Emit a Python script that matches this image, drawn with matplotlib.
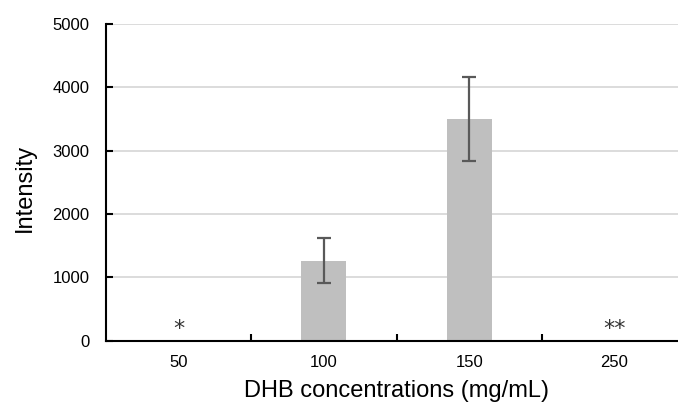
import matplotlib
matplotlib.use("Agg")
import matplotlib.pyplot as plt
import numpy as np

plt.rcParams["font.family"] = ["Liberation Sans", "DejaVu Sans"]

concentrations = ["50", "100", "150", "250"]
intensity = [0, 1265, 3500, 0]
intensity_err = [0, 360, 665, 0]
marks = ["*", "", "", "**"]

fig = plt.figure(figsize=(6.78, 4.05), dpi=100)
# plot area runs slightly past the right edge of the image
ax = fig.add_axes([106 / 678, 64.3 / 405, 581 / 678, 316.7 / 405])

x = np.arange(len(concentrations))
ax.bar(x, intensity, width=0.31, color="#bfbfbf", zorder=2)
for xi, v, e in zip(x, intensity, intensity_err):
    if e > 0:
        ax.errorbar(xi, v, yerr=e, fmt="none", ecolor="#595959",
                    elinewidth=1.6, capsize=5, capthick=1.6, zorder=3)

for xi, m in zip(x, marks):
    if m:
        ax.text(xi, 20, m, ha="center", va="bottom", fontsize=16,
                color="#333333", family="DejaVu Sans")

ax.set_xlim(-0.5, len(concentrations) - 0.5)
ax.set_ylim(0, 5000)
ax.set_yticks(np.arange(0, 5001, 1000))
ax.set_xticks(x)
ax.set_xticklabels(concentrations)
ax.set_xticks(np.arange(0.5, len(concentrations) - 0.5, 1), minor=True)

ax.yaxis.grid(True, color="#d9d9d9", linewidth=1.3, zorder=0)
ax.set_axisbelow(True)

for side in ["top", "right"]:
    ax.spines[side].set_visible(False)
ax.spines["left"].set_linewidth(1.5)
ax.spines["bottom"].set_linewidth(1.5)

ax.tick_params(axis="y", direction="in", length=5, width=1.5, labelsize=12, pad=12)
ax.tick_params(axis="x", which="major", length=0, labelsize=12, pad=10.5)
ax.tick_params(axis="x", which="minor", direction="in", length=5, width=1.5)

ax.set_ylabel("Intensity", fontsize=17)
ax.set_xlabel("DHB concentrations (mg/mL)", fontsize=17)
ax.yaxis.set_label_coords((25 - 106) / 581, (340.7 - 188) / 316.7)
ax.xaxis.set_label_coords((396 - 106) / 581, -(380 - 340.7) / 316.7)
ax.xaxis.label.set_va("top")
ax.yaxis.label.set_va("center")

fig.savefig("out.png", dpi=100)
